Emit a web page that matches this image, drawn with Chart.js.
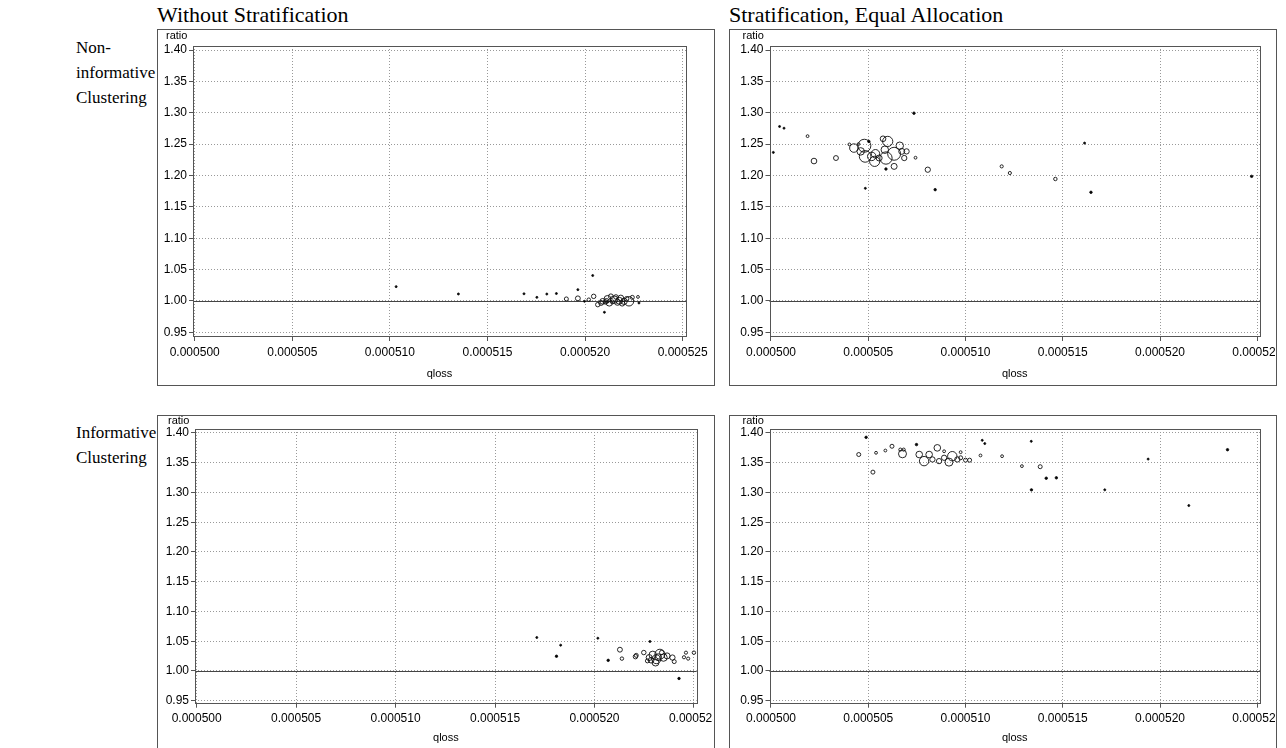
<!DOCTYPE html>
<html>
<head>
<meta charset="utf-8">
<script src="https://cdn.jsdelivr.net/npm/chart.js@4.4.0/dist/chart.umd.min.js"></script>
<style>
  html, body { margin: 0; padding: 0; background: #fff; }
  body { width: 1286px; height: 748px; overflow: hidden; position: relative;
         font-family: "Liberation Serif", "Times New Roman", serif; }
  .lbl { position: absolute; font-size: 17px; line-height: 25px; color: #000; white-space: nowrap; }
  .ttl { position: absolute; font-size: 22px; line-height: 26px; color: #000; white-space: nowrap; }
  .box { position: absolute; border: 1px solid #555; box-sizing: border-box; }
  canvas { position: absolute; }
</style>
</head>
<body>
<div class="ttl" style="left:157px; top:2px;">Without Stratification</div>
<div class="ttl" style="left:729px; top:2px;">Stratification, Equal Allocation</div>
<div class="lbl" style="left:76px; top:35px;">Non-<br>informative<br>Clustering</div>
<div class="lbl" style="left:76px; top:420px;">Informative<br>Clustering</div>

<div class="box" style="left:157px; top:29px; width:558px; height:357px;"></div>
<div class="box" style="left:729px; top:29px; width:548px; height:357px;"></div>
<div class="box" style="left:157px; top:415px; width:558px; height:345px;"></div>
<div class="box" style="left:729px; top:415px; width:548px; height:345px;"></div>

<canvas id="c_tl" width="555" height="354" style="left:158px; top:30px;"></canvas>
<canvas id="c_tr" width="545" height="354" style="left:730px; top:30px;"></canvas>
<canvas id="c_bl" width="555" height="343" style="left:158px; top:405px;"></canvas>
<canvas id="c_br" width="545" height="343" style="left:730px; top:405px;"></canvas>

<script>
// ---------------- DATA ----------------
const xTickValues = [0.000500, 0.000505, 0.000510, 0.000515, 0.000520, 0.000525];
const yTickValues = [0.95, 1.00, 1.05, 1.10, 1.15, 1.20, 1.25, 1.30, 1.35, 1.40];
const refRatio = 1.00;
const xTitle = "qloss";
const yTitle = "ratio";

// Top-left: Non-informative clustering, without stratification
const tlQloss = [0.00051032, 0.00051351, 0.00051687, 0.00051753, 0.00051804, 0.00051853, 0.00051904, 0.00051963,
  0.00051963, 0.00051997, 0.00052019, 0.00052044, 0.00052039, 0.00052065, 0.00052082, 0.00052090, 0.00052104,
  0.00052115, 0.00052124, 0.00052132, 0.00052140, 0.00052149, 0.00052158, 0.00052166, 0.00052175, 0.00052183,
  0.00052200, 0.00052213, 0.00052225, 0.00052242, 0.00052271, 0.00052276, 0.00052099, 0.00052110, 0.00052190];
const tlRatio = [1.0228, 1.0111, 1.0114, 1.0057, 1.0110, 1.0118, 1.0032, 1.0180,
  1.0041, 0.9994, 1.0020, 1.0073, 1.0405, 0.9941, 0.9968, 0.9994, 0.9984,
  1.0032, 0.9968, 1.0073, 0.9984, 1.0021, 1.0064, 0.9978, 1.0003, 1.0048,
  0.9994, 1.0035, 0.9994, 1.0057, 1.0064, 0.9968, 0.9819, 1.0000, 0.9960];
const tlWeight = [1, 1, 1, 1, 1, 1, 4, 1,
  6, 1, 3, 5, 1, 5, 6, 8, 5,
  12, 10, 6, 4, 14, 5, 9, 12, 8,
  10, 5, 22, 4, 2, 1, 1, 6, 7];

// Top-right: Non-informative clustering, stratification equal allocation
const trQloss = [0.00050012, 0.00050044, 0.00050067, 0.00050188, 0.00050221, 0.00050334, 0.00050735, 0.00050403,
  0.00050426, 0.00050480, 0.00050484, 0.00050461, 0.00050503, 0.00050518, 0.00050533, 0.00050537, 0.00050576,
  0.00050600, 0.00050585, 0.00050591, 0.00050633, 0.00050633, 0.00050662, 0.00050672, 0.00050697, 0.00050685,
  0.00050556, 0.00050450, 0.00050591, 0.00050485, 0.00050743, 0.00050806, 0.00050844, 0.00051186, 0.00051228,
  0.00051462, 0.00051612, 0.00051645, 0.00052471];
const trRatio = [1.2368, 1.2781, 1.2754, 1.2627, 1.2230, 1.2278, 1.2993, 1.2495,
  1.2437, 1.2474, 1.2304, 1.2384, 1.2543, 1.2304, 1.2225, 1.2346, 1.2585,
  1.2543, 1.2410, 1.2278, 1.2346, 1.2145, 1.2474, 1.2384, 1.2384, 1.2278,
  1.2278, 1.2500, 1.2103, 1.1795, 1.2283, 1.2092, 1.1774, 1.2145, 1.2039,
  1.1944, 1.2516, 1.1732, 1.1986];
const trWeight = [1, 1, 1, 2, 8, 6, 1.5, 2,
  18, 42, 34, 14, 1.5, 18, 26, 18, 8,
  26, 14, 38, 42, 9, 14, 9, 7, 7,
  9, 2, 1.5, 1, 2, 7, 1.5, 2.5, 2.5,
  3, 1, 1.5, 1.5];

// Bottom-left: Informative clustering, without stratification
const blQloss = [0.00051710, 0.00051830, 0.00051809, 0.00052017, 0.00052069, 0.00052128, 0.00052138, 0.00052206,
  0.00052210, 0.00052279, 0.00052248, 0.00052275, 0.00052293, 0.00052311, 0.00052329, 0.00052347, 0.00052307,
  0.00052365, 0.00052392, 0.00052401, 0.00052266, 0.00052338, 0.00052450, 0.00052460, 0.00052471, 0.00052500,
  0.00052425, 0.00052320, 0.00052285];
const blRatio = [1.0562, 1.0433, 1.0247, 1.0550, 1.0178, 1.0357, 1.0207, 1.0240,
  1.0262, 1.0495, 1.0309, 1.0225, 1.0270, 1.0197, 1.0281, 1.0225, 1.0141,
  1.0253, 1.0225, 1.0157, 1.0169, 1.0309, 1.0230, 1.0307, 1.0207, 1.0307,
  0.9873, 1.0230, 1.0180];
const blWeight = [1, 1, 1.5, 1, 1.5, 6, 3, 5,
  4, 1, 5, 9, 14, 20, 25, 14, 12,
  9, 7, 4, 4, 5, 2.5, 2.5, 2.5, 3,
  1.5, 12, 8];

// Bottom-right: Informative clustering, stratification equal allocation
const brQloss = [0.00050489, 0.00050451, 0.00050524, 0.00050540, 0.00050588, 0.00050622, 0.00050676, 0.00050665,
  0.00050682, 0.00050748, 0.00050762, 0.00050787, 0.00050813, 0.00050855, 0.00050890, 0.00050830, 0.00050864,
  0.00050890, 0.00050915, 0.00050932, 0.00050958, 0.00050975, 0.00051000, 0.00051021, 0.00050975, 0.00051077,
  0.00051086, 0.00051099, 0.00051188, 0.00051338, 0.00051290, 0.00051384, 0.00051339, 0.00051415, 0.00051467,
  0.00051716, 0.00051939, 0.00052148, 0.00052347];
const brRatio = [1.3927, 1.3638, 1.3342, 1.3667, 1.3705, 1.3777, 1.3650, 1.3720,
  1.3720, 1.3805, 1.3638, 1.3527, 1.3638, 1.3750, 1.3693, 1.3555, 1.3527,
  1.3583, 1.3510, 1.3610, 1.3555, 1.3583, 1.3543, 1.3543, 1.3677, 1.3622,
  1.3877, 1.3822, 1.3610, 1.3860, 1.3443, 1.3433, 1.3044, 1.3240, 1.3246,
  1.3044, 1.3561, 1.2780, 1.3719];
const brWeight = [1.5, 4, 4, 2, 2, 4, 16, 2.5,
  2.5, 1.5, 11, 22, 11, 11, 2, 7, 7,
  7, 16, 22, 7, 4, 4, 4, 2, 2,
  1, 1, 2, 1, 2, 4, 1.5, 1.5, 1.5,
  1, 1, 1, 1.5];

// ---------------- LAYOUT ----------------
const panels = [
  { id: 'c_tl', q: tlQloss, r: tlRatio, w: tlWeight,
    yW: 35, padTop: 16, padRight: 27, xH: 48, lblOff: 10,
    xMin: 0.000499913, xMax: 0.00052517, yMin: 0.9441, yMax: 1.4064 },
  { id: 'c_tr', q: trQloss, r: trRatio, w: trWeight,
    yW: 39.5, padTop: 16, padRight: 15, xH: 48, lblOff: 10,
    xMin: 0.000499923, xMax: 0.00052514, yMin: 0.9441, yMax: 1.4064 },
  { id: 'c_bl', q: blQloss, r: blRatio, w: blWeight,
    yW: 37, padTop: 24, padRight: 16.3, xH: 45.3, lblOff: 8,
    xMin: 0.000499915, xMax: 0.00052514, yMin: 0.9466, yMax: 1.4067 },
  { id: 'c_br', q: brQloss, r: brRatio, w: brWeight,
    yW: 39.5, padTop: 24, padRight: 15, xH: 45.3, lblOff: 8,
    xMin: 0.000499923, xMax: 0.00052514, yMin: 0.9466, yMax: 1.4067 }
];

function makeFramePlugin(p) {
  return {
    id: 'frameRef',
    beforeDatasetsDraw(chart) {
      const { ctx, chartArea: a, scales } = chart;
      ctx.save();
      const yp = Math.round(scales.y.getPixelForValue(refRatio)) + 0.5;
      ctx.strokeStyle = '#444';
      ctx.lineWidth = 1;
      ctx.beginPath();
      ctx.moveTo(a.left, yp);
      ctx.lineTo(a.right, yp);
      ctx.stroke();
      ctx.strokeStyle = '#555';
      const l = Math.round(a.left) + 0.5, t = Math.round(a.top) + 0.5;
      const r = Math.round(a.right) + 0.5, b = Math.round(a.bottom) + 0.5;
      ctx.strokeRect(l, t, r - l, b - t);
      ctx.restore();
    },
    afterDraw(chart) {
      const { ctx, chartArea: a } = chart;
      ctx.save();
      ctx.font = '11px "Liberation Sans", Arial, sans-serif';
      ctx.fillStyle = '#000';
      ctx.textBaseline = 'middle';
      ctx.textAlign = 'left';
      ctx.fillText(yTitle, a.left - 27, a.top - p.lblOff);
      ctx.restore();
    }
  };
}

const axisFont = { family: '"Liberation Sans", Arial, sans-serif', size: 12 };

panels.forEach(p => {
  const pts = p.q.map((q, i) => ({ x: q, y: p.r[i] }));
  new Chart(document.getElementById(p.id), {
    type: 'scatter',
    data: {
      datasets: [{
        data: pts,
        pointRadius: ctx => Math.sqrt(p.w[ctx.dataIndex]),
        pointHoverRadius: ctx => Math.sqrt(p.w[ctx.dataIndex]),
        pointBackgroundColor: ctx => p.w[ctx.dataIndex] <= 1.5 ? '#000' : 'rgba(0,0,0,0)',
        pointBorderColor: '#111',
        pointBorderWidth: 0.9,
        showLine: false
      }]
    },
    options: {
      responsive: false,
      animation: false,
      events: [],
      layout: { padding: { top: p.padTop, right: p.padRight, left: 0, bottom: 0 } },
      plugins: { legend: { display: false }, tooltip: { enabled: false } },
      scales: {
        x: {
          type: 'linear', min: p.xMin, max: p.xMax,
          afterBuildTicks: s => { s.ticks = xTickValues.map(v => ({ value: v })); },
          afterFit: s => { s.height = p.xH; s.paddingLeft = 0; s.paddingRight = 0; },
          ticks: { callback: v => Number(v).toFixed(6), font: axisFont, color: '#000',
                   padding: 4, maxRotation: 0, minRotation: 0, autoSkip: false },
          grid: { color: '#999', lineWidth: 1, drawTicks: true, tickLength: 5,
                  tickColor: '#555', tickWidth: 1, tickBorderDash: [] },
          border: { display: false, dash: [1, 2] },
          title: { display: true, text: xTitle, color: '#000',
                   font: { family: '"Liberation Sans", Arial, sans-serif', size: 11 },
                   padding: { top: 0, bottom: 3 } }
        },
        y: {
          type: 'linear', min: p.yMin, max: p.yMax,
          afterBuildTicks: s => { s.ticks = yTickValues.map(v => ({ value: v })); },
          afterFit: s => { s.width = p.yW; s.paddingTop = 0; s.paddingBottom = 0; },
          ticks: { callback: v => Number(v).toFixed(2), font: axisFont, color: '#000',
                   padding: 2, autoSkip: false },
          grid: { color: '#999', lineWidth: 1, drawTicks: true, tickLength: 4,
                  tickColor: '#555', tickWidth: 1, tickBorderDash: [] },
          border: { display: false, dash: [1, 2] }
        }
      }
    },
    plugins: [makeFramePlugin(p)]
  });
});
</script>
</body>
</html>
